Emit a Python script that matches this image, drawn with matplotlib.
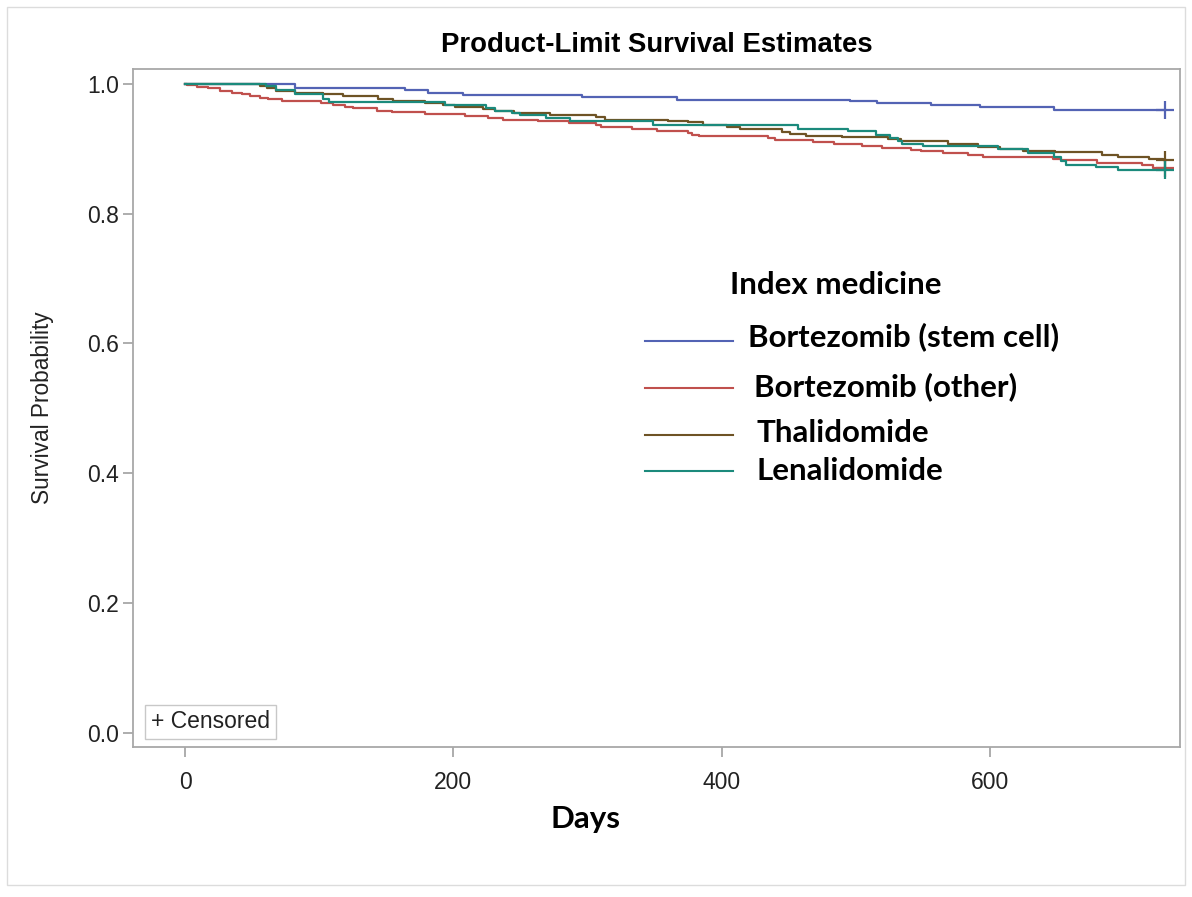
import matplotlib.pyplot as plt
from matplotlib.patches import Rectangle
from matplotlib.lines import Line2D

# Kaplan-Meier step estimates by index medicine (days, survival)
stem_days = [0, 82, 164, 181, 207, 296, 367, 496, 516, 556, 593, 648, 731]
stem_surv = [1.0, 0.994, 0.991, 0.986, 0.983, 0.980, 0.975, 0.974, 0.971,
             0.968, 0.965, 0.960, 0.960]

other_days = [0, 1, 9, 17, 26, 35, 42, 48, 56, 62, 72, 101, 110, 119, 125,
              143, 154, 179, 209, 226, 237, 263, 286, 306, 310, 333, 352, 375,
              378, 383, 435, 440, 468, 484, 505, 520, 541, 549, 565, 584, 595,
              647, 653, 680, 714, 722, 731]
other_surv = [1.0, 0.998, 0.995, 0.993, 0.989, 0.986, 0.984, 0.981, 0.978,
              0.976, 0.973, 0.971, 0.968, 0.965, 0.963, 0.959, 0.956, 0.954,
              0.950, 0.948, 0.945, 0.943, 0.939, 0.936, 0.933, 0.931, 0.928,
              0.925, 0.922, 0.919, 0.916, 0.913, 0.910, 0.908, 0.904, 0.901,
              0.898, 0.896, 0.893, 0.890, 0.887, 0.884, 0.882, 0.878, 0.875,
              0.871, 0.871]

thal_days = [0, 56, 61, 68, 82, 103, 118, 144, 155, 179, 192, 201, 222, 231,
             245, 272, 306, 313, 360, 375, 386, 404, 414, 445, 451, 463, 490,
             524, 534, 569, 591, 608, 625, 649, 684, 696, 719, 729, 731]
thal_surv = [1.0, 0.996, 0.994, 0.989, 0.986, 0.984, 0.981, 0.977, 0.973,
             0.970, 0.967, 0.964, 0.962, 0.959, 0.955, 0.952, 0.949, 0.945,
             0.943, 0.941, 0.937, 0.933, 0.930, 0.926, 0.923, 0.920, 0.918,
             0.915, 0.912, 0.907, 0.903, 0.900, 0.897, 0.895, 0.890, 0.887,
             0.884, 0.882, 0.882]

lena_days = [0, 60, 68, 82, 103, 107, 194, 224, 231, 244, 250, 269, 287, 349,
             457, 494, 515, 526, 532, 535, 550, 606, 629, 648, 653, 657, 679,
             696, 731]
lena_surv = [1.0, 0.996, 0.990, 0.985, 0.977, 0.972, 0.968, 0.963, 0.959,
             0.955, 0.952, 0.947, 0.943, 0.937, 0.930, 0.927, 0.921, 0.917,
             0.912, 0.907, 0.904, 0.900, 0.894, 0.887, 0.881, 0.875, 0.872,
             0.868, 0.867]

labels = ['Bortezomib (stem cell)', 'Bortezomib (other)', 'Thalidomide',
          'Lenalidomide']
colors = ['#5363b4', '#c0504d', '#6e5325', '#1b8a7c']

x_ticks = [0, 200, 400, 600]
y_ticks = [0.0, 0.2, 0.4, 0.6, 0.8, 1.0]

fig = plt.figure(figsize=(11.92, 8.97), dpi=100)
ax = fig.add_axes([0.1116, 0.1672, 0.8783, 0.7559])

series = [(stem_days, stem_surv), (other_days, other_surv),
          (thal_days, thal_surv), (lena_days, lena_surv)]
for (d, s), c in zip(series, colors):
    ax.step(d, s, where='post', color=c, lw=1.6)
    ax.plot(d[-1], s[-1], marker='+', ms=13, mew=1.6, color=c)

ax.set_xlim(-39, 742)
ax.set_ylim(-0.022, 1.023)
ax.set_xticks(x_ticks)
ax.set_xticklabels([str(t) for t in x_ticks])
ax.set_yticks(y_ticks)
ax.set_yticklabels([f'{t:.1f}' for t in y_ticks])

sans = 'Liberation Sans'
for lab in ax.get_xticklabels() + ax.get_yticklabels():
    lab.set_family(sans)
    lab.set_fontsize(16.5)
    lab.set_color('#222222')
ax.tick_params(direction='out', length=7, width=1.2, color='#a0a0a0', pad=3)
ax.tick_params(axis='x', pad=10)
for sp in ax.spines.values():
    sp.set_color('#a8a8a8')
    sp.set_linewidth(1.3)

ax.set_ylabel('Survival Probability', family=sans, fontsize=16.3,
              labelpad=24, color='#222222')
ax.set_xlabel('Days', family='Lato', fontweight='bold', fontsize=22.5,
              labelpad=8)
ax.xaxis.label.set_x(0.432)
ax.set_title('Product-Limit Survival Estimates', family=sans,
             fontweight='bold', fontsize=19.8, pad=12)

# legend placed freely inside the plot area
ax.text(0.570, 0.681, 'Index medicine', transform=ax.transAxes,
        family='Lato', fontweight='bold', fontsize=22.5, va='center')
leg_y = [0.605, 0.532, 0.463, 0.407]
line_y = [0.599, 0.529, 0.460, 0.407]
leg_x = [0.587, 0.593, 0.596, 0.596]
for y, ly, xt, lab, c in zip(leg_y, line_y, leg_x, labels, colors):
    ax.add_line(Line2D([0.489, 0.573], [ly, ly],
                       transform=ax.transAxes, color=c, lw=1.5))
    ax.text(xt, y, lab, transform=ax.transAxes, family='Lato',
            fontweight='bold', fontsize=22.5, va='center')

ax.text(0.017, 0.037, '+ Censored', transform=ax.transAxes, family=sans,
        fontsize=16.5, va='center', color='#222222',
        bbox=dict(boxstyle='square,pad=0.25', fc='white', ec='#c8c8c8'))

fig.patches.append(Rectangle((7 / 1192, 12 / 897), 1178 / 1192, 878 / 897,
                             transform=fig.transFigure, fill=False,
                             ec='#dcdcdc', lw=1))

fig.savefig('out.png', dpi=100)
